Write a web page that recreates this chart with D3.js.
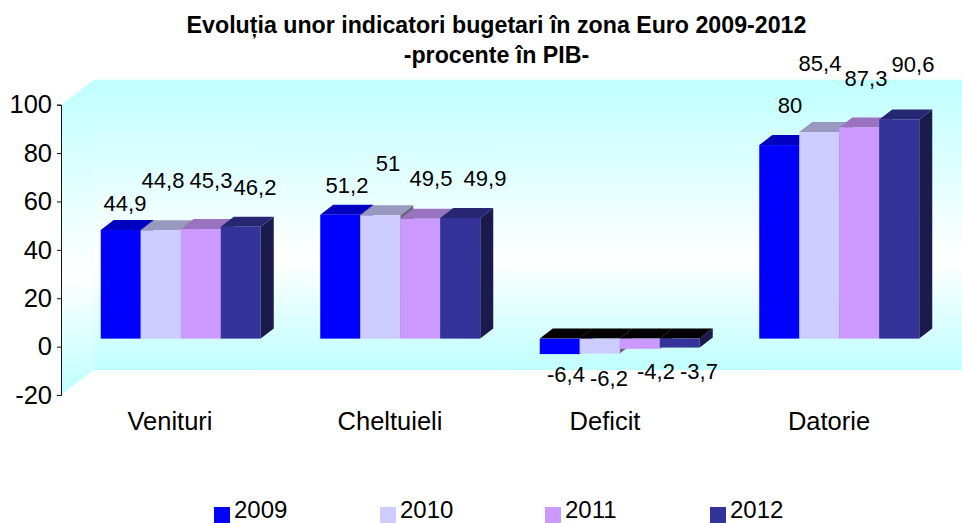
<!DOCTYPE html>
<html><head><meta charset="utf-8">
<script src="https://cdn.jsdelivr.net/npm/d3@7"></script>
<style>html,body{margin:0;background:#fff;overflow:hidden}svg{display:block}text{font-family:"Liberation Sans",Arial,sans-serif;fill:#000}</style>
</head><body><svg id="c" width="962" height="523"></svg>
<script>
const categories = ["Venituri","Cheltuieli","Deficit","Datorie"];
const years = ["2009","2010","2011","2012"];
const v2009 = [44.9,51.2,-6.4,80];
const v2010 = [44.8,51,-6.2,85.4];
const v2011 = [45.3,49.5,-4.2,87.3];
const v2012 = [46.2,49.9,-3.7,90.6];
const yTicks = [-20,0,20,40,60,80,100];
const titleLines = ["Evoluția unor indicatori bugetari în zona Euro 2009-2012","-procente în PIB-"];
const fronts = ["#0000ff","#ccccff","#cc99ff","#333399"];
const tops = ["#0000c0","#9999bf","#9973bf","#262673"];
const sides = ["#000080","#666680","#664d80","#1a1a4d"];
const series = [v2009,v2010,v2011,v2012];
const labelPos = [
 [[125,211],[347,193],[566,382],[790,113]],
 [[163,188],[388,171],[609,386],[820,71]],
 [[211,188],[431,186],[656,379],[866,86]],
 [[255,195],[485,186],[699,379],[913,72]]
];
const svg = d3.select("#c");
const fmt = v => String(v).replace(".",",");
const axisX = 61, plotRight = 962;
const y = d3.scaleLinear().domain([-20,100]).range([395,104.7]);
const wallD = {x:33,y:-25}, barD = {x:13,y:-10}, frontD = {x:0,y:-8};
const x0 = d3.scaleBand().domain(categories).range([71,949]);
const x1 = d3.scaleBand().domain(years).range([0,160]);
const groupLeft = c => x0(c)+x0.bandwidth()/2-80;

const defs = svg.append("defs");
const g = defs.append("linearGradient").attr("id","wall").attr("x1",0).attr("x2",0).attr("y1",0).attr("y2",1);
[[0,"#c0ffff"],[.62,"#ffffff"],[1,"#c0ffff"]].forEach(s=>g.append("stop").attr("offset",s[0]).attr("stop-color",s[1]));

const yTop=y(100), yBot=y(-20);
const poly=(pts,f)=>svg.append("polygon").attr("points",pts.map(p=>p.join(",")).join(" ")).attr("fill",f);
poly([[axisX,yTop],[axisX+wallD.x,yTop+wallD.y],[axisX+wallD.x,yBot+wallD.y],[axisX,yBot]],"url(#wall)");
svg.append("rect").attr("x",axisX+wallD.x).attr("y",yTop+wallD.y).attr("width",plotRight-axisX-wallD.x).attr("height",yBot-yTop).attr("fill","url(#wall)");

const axis = d3.axisLeft(y).tickValues(yTicks).tickSize(4).tickPadding(5).tickFormat(d=>d);
const ga = svg.append("g").attr("transform",`translate(${axisX},0)`).call(axis);
ga.selectAll("path,line").attr("stroke","#111").attr("stroke-width",1);
ga.selectAll("text").attr("font-size",25.5).style("font-family",'"Liberation Sans"');

const z = y(0)+frontD.y;
categories.forEach((c,ci)=>{
  years.forEach((yr,si)=>{
    const v = series[si][ci], l = groupLeft(c)+x1(yr), w = x1.bandwidth();
    const yv = y(v)+frontD.y, t = Math.min(yv,z), b = Math.max(yv,z);
    poly([[l+w,t],[l+w+barD.x,t+barD.y],[l+w+barD.x,b+barD.y],[l+w,b]],sides[si]);
    poly([[l,t],[l+barD.x,t+barD.y],[l+w+barD.x,t+barD.y],[l+w,t]], v<0?"#000":tops[si]);
    svg.append("rect").attr("x",l).attr("y",t).attr("width",w).attr("height",b-t).attr("fill",fronts[si]);
  });
});
categories.forEach((c,ci)=>years.forEach((yr,si)=>{
  const p = labelPos[si][ci];
  svg.append("text").attr("x",p[0]).attr("y",p[1]).attr("text-anchor","middle").attr("font-size",22).text(fmt(series[si][ci]));
}));
const catX=[170,390,605,829];
categories.forEach((c,i)=>svg.append("text").attr("x",catX[i]).attr("y",430).attr("text-anchor","middle").attr("font-size",25.5).text(c));
titleLines.forEach((t,i)=>svg.append("text").attr("x",496.5).attr("y",33+i*30).attr("text-anchor","middle").attr("font-size",23.2).attr("font-weight","bold").text(t));
const legendX=[214,380,545,710];
years.forEach((yr,i)=>{
  svg.append("rect").attr("x",legendX[i]).attr("y",507).attr("width",16).attr("height",16).attr("fill",fronts[i]);
  svg.append("text").attr("x",legendX[i]+20).attr("y",518).attr("font-size",24).text(yr);
});
</script></body></html>
